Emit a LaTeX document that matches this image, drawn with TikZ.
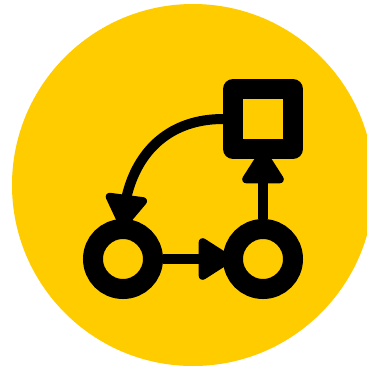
\documentclass[tikz,border=0pt]{standalone}
\usetikzlibrary{arrows.meta,bending}
\definecolor{icony}{HTML}{FFCC00}
\tikzset{
  x=1pt,y=-1pt,
  ringnode/.style={circle,draw=black,line width=20pt,inner sep=0pt,minimum size=60pt},
  boxnode/.style={rectangle,draw=black,line width=20pt,line join=round,inner sep=0pt,minimum size=60pt},
  conn/.style={draw=black,line width=10pt,shorten >=-10pt,-{Triangle[round,length=38pt,width=46pt,line width=8pt,flex=1]}}
}
\begin{document}
\begin{tikzpicture}
\useasboundingbox (0,0) rectangle (367,368);
\clip (0,0) rectangle (367,368);
\fill[white] (0,0) rectangle (367,368);
\fill[icony] (193,185) circle[radius=181pt];
\node[ringnode] (a) at (123,259) {};
\node[ringnode] (b) at (263,259) {};
\node[boxnode] (c) at (263,119) {};
\draw[conn] (a.east) -- (b.west);
\draw[conn] (b.north) -- (c.south);
\draw[conn] (c.west) to[out=180,in=85,looseness=1.08] (a.north);
\end{tikzpicture}
\end{document}
